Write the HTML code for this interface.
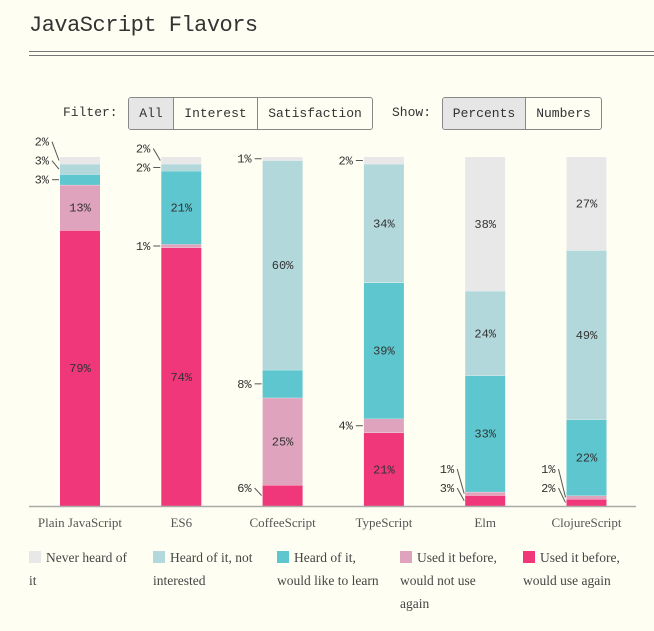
<!DOCTYPE html>
<html><head><meta charset="utf-8"><style>
body{margin:0;background:#fffef2;width:654px;height:631px;overflow:hidden;position:relative;font-family:"Liberation Mono",monospace;color:#333}
.title{position:absolute;left:29px;top:13px;font-size:22px;letter-spacing:-0.5px;color:#333}
.rule{position:absolute;left:29px;right:0;height:1px;background:#777}
.lbl{position:absolute;top:105px;font-size:13px;color:#333}
.grp{position:absolute;top:97px;height:33px;border:1px solid #888;border-radius:3px;display:flex;overflow:hidden;box-sizing:border-box}
.btn{font-size:13px;line-height:31px;text-align:center;border-right:1px solid #888;box-sizing:border-box;color:#333}
.btn:last-child{border-right:none}
.on{background:#e6e6e6}
.leg{position:absolute;top:546px;width:108px;font-family:"Liberation Serif",serif;font-size:13.5px;line-height:23px;color:#444}
.sw{display:inline-block;width:12px;height:12px;margin-right:5px;vertical-align:-1px}
</style></head><body>
<div class="title">JavaScript Flavors</div>
<div class="rule" style="top:51px"></div>
<div class="rule" style="top:55px"></div>
<div class="lbl" style="left:63px">Filter:</div>
<div class="grp" style="left:128px;width:245px">
<div class="btn on" style="width:45px">All</div>
<div class="btn" style="width:84px">Interest</div>
<div class="btn" style="width:114px">Satisfaction</div>
</div>
<div class="lbl" style="left:392px">Show:</div>
<div class="grp" style="left:442px;width:160px">
<div class="btn on" style="width:83px">Percents</div>
<div class="btn" style="width:75px">Numbers</div>
</div>
<svg id="chart" width="654" height="540" style="position:absolute;left:0;top:0"></svg>
<div class="leg" style="left:29px"><span class="sw" style="background:#e8e8e8"></span>Never heard of it</div>
<div class="leg" style="left:153px"><span class="sw" style="background:#b2d8dc"></span>Heard of it, not interested</div>
<div class="leg" style="left:277px"><span class="sw" style="background:#5ec6cf"></span>Heard of it, would like to learn</div>
<div class="leg" style="left:400px"><span class="sw" style="background:#e0a3bd"></span>Used it before, would not use again</div>
<div class="leg" style="left:523px"><span class="sw" style="background:#ef3779"></span>Used it before, would use again</div>
<script>
const categories=["Plain JavaScript","ES6","CoffeeScript","TypeScript","Elm","ClojureScript"];
const useAgain=[79,74,6,21,3,2];
const notAgain=[13,1,25,4,1,1];
const wouldLearn=[3,21,8,39,33,22];
const notInterested=[3,2,60,34,24,49];
const neverHeard=[2,2,1,2,38,27];
const series=[useAgain,notAgain,wouldLearn,notInterested,neverHeard];
const colors=["#ef3779","#e0a3bd","#5ec6cf","#b2d8dc","#e8e8e8"];
const names=["use-again","not-use-again","would-learn","not-interested","never-heard"];
const svg=document.getElementById('chart');
const NS="http://www.w3.org/2000/svg";
const base=506,plotH=349,x0=60,step=101.3,bw=40;
const xb=i=>x0+i*step;
function mk(t,a){const e=document.createElementNS(NS,t);for(const k in a)e.setAttribute(k,a[k]);svg.appendChild(e);return e;}
categories.forEach((c,i)=>{
  let cum=0;const small=[];
  const total=series.reduce((a,s)=>a+s[i],0);
  const y=v=>base-v/total*plotH;
  series.forEach((s,k)=>{
    const v=s[i];const y1=y(cum),y2=y(cum+v);
    const r=mk('rect',{x:xb(i),y:y2,width:bw,height:Math.max(0,y1-y2),fill:colors[k]});
    
    
    if(k<4&&v>0){mk('line',{x1:xb(i),x2:xb(i)+bw,y1:y2,y2:y2,stroke:'#fffef2','stroke-width':0.6});}
    const cy=(y1+y2)/2;
    if(v>=10){
      const t=mk('text',{x:xb(i)+bw/2,y:cy+4,'text-anchor':'middle','font-size':12,fill:'#333','font-family':'Liberation Mono,monospace'});
      t.textContent=v+'%';
      
      
    } else small.push({v,cy,ly:Math.min(cy,base-18)});
    cum+=v;
  });
  small.sort((a,b)=>a.cy-b.cy);
  for(let j=small.length-2;j>=0;j--){small[j].ly=Math.min(small[j].ly,small[j+1].ly-19);}
  small.forEach(s=>{
    mk('line',{x1:xb(i)-8,y1:s.ly,x2:xb(i)-1,y2:s.cy,stroke:'#555','stroke-width':1});
    const t=mk('text',{x:xb(i)-11,y:s.ly+4,'text-anchor':'end','font-size':12,fill:'#333','font-family':'Liberation Mono,monospace'});
    t.textContent=s.v+'%';
    
    
  });
  const t=mk('text',{x:xb(i)+bw/2,y:527,'text-anchor':'middle','font-size':13,fill:'#555','font-family':'Liberation Serif,serif'});
  t.textContent=c;
  
  
});
const ax=mk('line',{x1:29,x2:636,y1:base+0.5,y2:base+0.5,stroke:'#aaa','stroke-width':1.5});


</script>
</body></html>
